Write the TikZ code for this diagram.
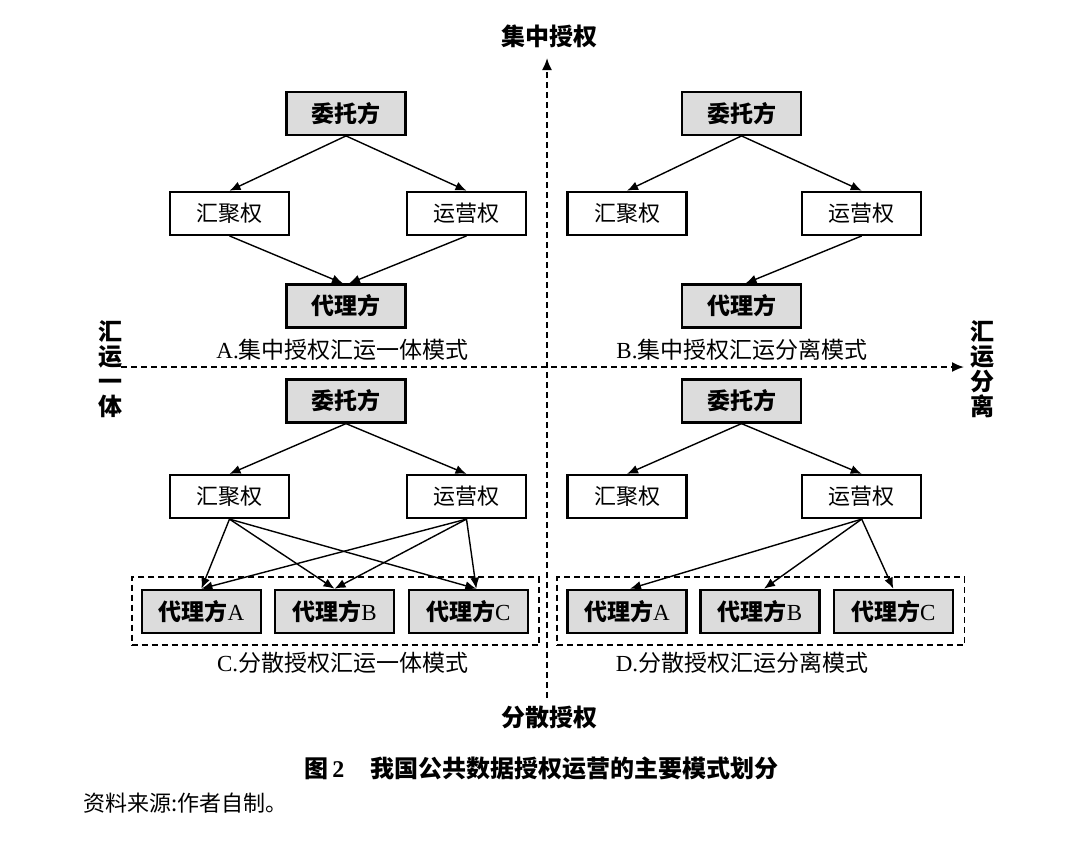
\documentclass[tikz,border=0pt]{standalone}
\usepackage{fontspec}
\setmainfont{Liberation Serif}
\newfontfamily\cjk{Noto Sans CJK SC}
\usetikzlibrary{arrows.meta,calc}
\definecolor{boxgray}{RGB}{220,220,220}
\tikzset{
  boxbase/.style={draw, line width=1.1pt, minimum width=59.5pt, minimum height=21.5pt, inner sep=0pt},
  hbox/.style={boxbase, fill=boxgray, font=\cjk\bfseries\fontsize{11.5}{12}\selectfont},
  rbox/.style={boxbase, fill=white, font=\cjk\fontsize{11}{12}\selectfont},
  conn/.style={line width=0.7pt, -{Latex[length=5.5pt,width=4.5pt]}},
  axisline/.style={line width=0.9pt, dash pattern=on 3pt off 2pt, -{Latex[length=6pt,width=5pt]}},
  groupbox/.style={draw, line width=0.9pt, dash pattern=on 3pt off 2pt, minimum width=203.7pt, minimum height=34pt, inner sep=0pt},
  capt/.style={font=\fontsize{11.5}{12}\selectfont},
  axlab/.style={font=\cjk\bfseries\fontsize{12}{12.4}\selectfont, align=center, inner sep=0pt},
}
\newcommand{\agent}[1]{{\cjk\bfseries 代理方}{\rmfamily\mdseries #1}}
\begin{document}
\begin{tikzpicture}[x=0.5pt,y=-0.5pt]
\useasboundingbox (0,0) rectangle (1080,848);
% axes
\coordinate (vb) at (547,698);
\coordinate (vt) at (547,58);
\coordinate (hl) at (121,367);
\coordinate (hr) at (964,367);
\draw[axisline] (vb) -- (vt);
\draw[axisline] (hl) -- (hr);
\node[axlab] (lTop) at (549,36) {集中授权};
\node[axlab] (lBot) at (549,717) {分散授权};
\node[axlab] (lLeft) at (110,369) {汇\\运\\一\\体};
\node[axlab] (lRight) at (982,369) {汇\\运\\分\\离};
% A
\node[hbox] (tA) at (346,113.3) {委托方};
\node[rbox] (hA) at (229.5,213.3) {汇聚权};
\node[rbox] (oA) at (466.5,213.3) {运营权};
\node[hbox] (dA) at (346,306) {代理方};
\node[capt] (cA) at (342.6,350) {A.{\cjk 集中授权汇运一体模式}};
\draw[conn] (tA.south) -- (hA.north);
\draw[conn] (tA.south) -- (oA.north);
\draw[conn] (hA.south) -- ([xshift=-1.5pt]dA.north);
\draw[conn] (oA.south) -- ([xshift=1.5pt]dA.north);
% B
\node[hbox] (tB) at (741.5,113.3) {委托方};
\node[rbox] (hB) at (627,213.3) {汇聚权};
\node[rbox] (oB) at (861.7,213.3) {运营权};
\node[hbox] (dB) at (741.5,306) {代理方};
\node[capt] (cB) at (742,350) {B.{\cjk 集中授权汇运分离模式}};
\draw[conn] (tB.south) -- (hB.north);
\draw[conn] (tB.south) -- (oB.north);
\draw[conn] (oB.south) -- ([xshift=2pt]dB.north);
% C
\node[hbox] (tC) at (346,401) {委托方};
\node[rbox] (hC) at (229.5,496.5) {汇聚权};
\node[rbox] (oC) at (466.5,496.5) {运营权};
\node[groupbox] (gC) at (335.3,611.3) {};
\node[hbox] (aC) at (201.4,611.3) {\agent{A}};
\node[hbox] (bC) at (334.5,611.3) {\agent{B}};
\node[hbox] (cC) at (468.3,611.3) {\agent{C}};
\node[capt] (capC) at (342.6,663) {C.{\cjk 分散授权汇运一体模式}};
\draw[conn] (tC.south) -- (hC.north);
\draw[conn] (tC.south) -- (oC.north);
\draw[conn] (hC.south) -- (aC.north);
\draw[conn] (hC.south) -- (bC.north);
\draw[conn] (hC.south) -- ([xshift=4pt]cC.north);
\draw[conn] (oC.south) -- (aC.north);
\draw[conn] (oC.south) -- (bC.north);
\draw[conn] (oC.south) -- ([xshift=4pt]cC.north);
% D
\node[hbox] (tD) at (741.5,401) {委托方};
\node[rbox] (hD) at (627,496.5) {汇聚权};
\node[rbox] (oD) at (861.7,496.5) {运营权};
\node[groupbox] (gD) at (760.8,611.3) {};
\node[hbox] (aD) at (627,611.3) {\agent{A}};
\node[hbox] (bD) at (760,611.3) {\agent{B}};
\node[hbox] (cD) at (893.3,611.3) {\agent{C}};
\node[capt] (capD) at (742,663) {D.{\cjk 分散授权汇运分离模式}};
\draw[conn] (tD.south) -- (hD.north);
\draw[conn] (tD.south) -- (oD.north);
\draw[conn] (oD.south) -- ([xshift=1.5pt]aD.north);
\draw[conn] (oD.south) -- ([xshift=2pt]bD.north);
\draw[conn] (oD.south) -- (cD.north);
% title and source
\node[anchor=west, inner sep=0pt, font=\fontsize{12}{12}\selectfont] (title) at (304,768)
  {{\cjk\bfseries 图}\,{\bfseries 2}\hspace{13pt}{\cjk\bfseries 我国公共数据授权运营的主要模式划分}};
\node[anchor=west, inner sep=0pt, font=\cjk\fontsize{11}{12}\selectfont] (source) at (83,803) {资料来源:作者自制。};
\end{tikzpicture}
\end{document}
